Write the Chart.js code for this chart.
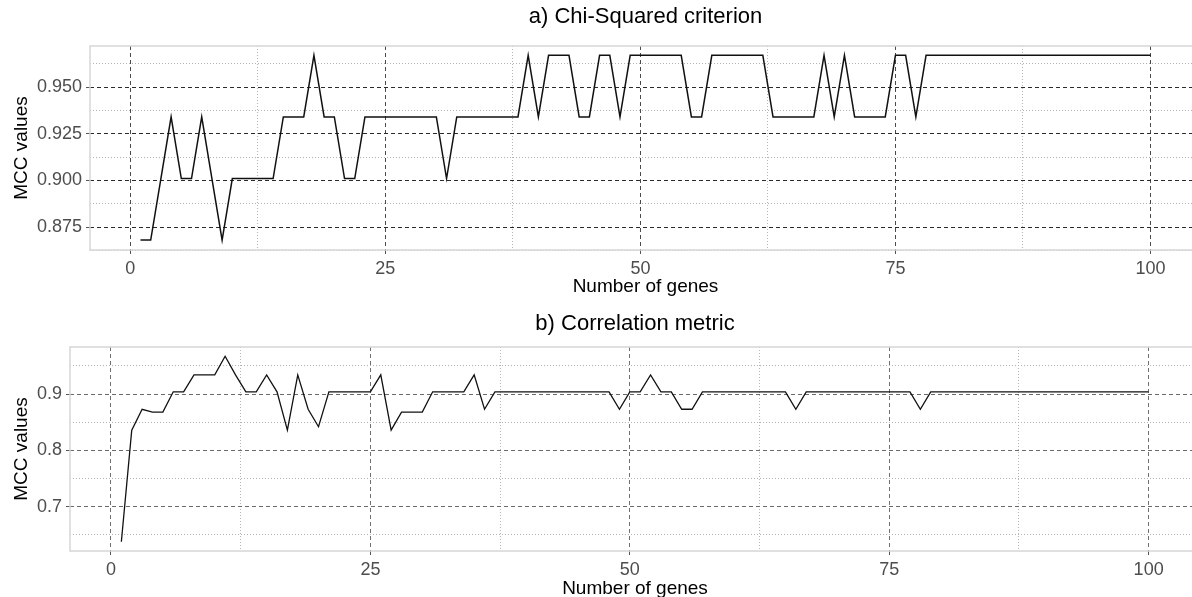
<!DOCTYPE html>
<html>
<head>
<meta charset="utf-8">
<script src="https://cdn.jsdelivr.net/npm/chart.js@4.4.1/dist/chart.umd.min.js"></script>
<style>
  html, body { margin: 0; padding: 0; background: #fff; overflow: hidden; }
  .panel { position: absolute; left: 0; }
  #panelA { top: 0; }
  #panelB { top: 298px; }
</style>
</head>
<body>
<canvas id="panelA" class="panel" width="1201" height="300"></canvas>
<canvas id="panelB" class="panel" width="1200" height="305"></canvas>
<script>
// =======================
// Data
// =======================
const genes = [
  1, 2, 3, 4, 5, 6, 7, 8, 9, 10,
  11, 12, 13, 14, 15, 16, 17, 18, 19, 20,
  21, 22, 23, 24, 25, 26, 27, 28, 29, 30,
  31, 32, 33, 34, 35, 36, 37, 38, 39, 40,
  41, 42, 43, 44, 45, 46, 47, 48, 49, 50,
  51, 52, 53, 54, 55, 56, 57, 58, 59, 60,
  61, 62, 63, 64, 65, 66, 67, 68, 69, 70,
  71, 72, 73, 74, 75, 76, 77, 78, 79, 80,
  81, 82, 83, 84, 85, 86, 87, 88, 89, 90,
  91, 92, 93, 94, 95, 96, 97, 98, 99, 100
];

// a) Chi-Squared criterion
const mccChiSquared = [
  0.868, 0.868, 0.901, 0.934, 0.901, 0.901, 0.934, 0.901, 0.868, 0.901,
  0.901, 0.901, 0.901, 0.901, 0.934, 0.934, 0.934, 0.967, 0.934, 0.934,
  0.901, 0.901, 0.934, 0.934, 0.934, 0.934, 0.934, 0.934, 0.934, 0.934,
  0.901, 0.934, 0.934, 0.934, 0.934, 0.934, 0.934, 0.934, 0.967, 0.934,
  0.967, 0.967, 0.967, 0.934, 0.934, 0.967, 0.967, 0.934, 0.967, 0.967,
  0.967, 0.967, 0.967, 0.967, 0.934, 0.934, 0.967, 0.967, 0.967, 0.967,
  0.967, 0.967, 0.934, 0.934, 0.934, 0.934, 0.934, 0.967, 0.934, 0.967,
  0.934, 0.934, 0.934, 0.934, 0.967, 0.967, 0.934, 0.967, 0.967, 0.967,
  0.967, 0.967, 0.967, 0.967, 0.967, 0.967, 0.967, 0.967, 0.967, 0.967,
  0.967, 0.967, 0.967, 0.967, 0.967, 0.967, 0.967, 0.967, 0.967, 0.967
];

// b) Correlation metric
const mccCorrelation = [
  0.638, 0.836, 0.873, 0.868, 0.868, 0.904, 0.904, 0.934, 0.934, 0.934,
  0.967, 0.934, 0.904, 0.904, 0.934, 0.904, 0.836, 0.934, 0.873, 0.842,
  0.904, 0.904, 0.904, 0.904, 0.904, 0.934, 0.836, 0.868, 0.868, 0.868,
  0.904, 0.904, 0.904, 0.904, 0.934, 0.873, 0.904, 0.904, 0.904, 0.904,
  0.904, 0.904, 0.904, 0.904, 0.904, 0.904, 0.904, 0.904, 0.873, 0.904,
  0.904, 0.934, 0.904, 0.904, 0.873, 0.873, 0.904, 0.904, 0.904, 0.904,
  0.904, 0.904, 0.904, 0.904, 0.904, 0.873, 0.904, 0.904, 0.904, 0.904,
  0.904, 0.904, 0.904, 0.904, 0.904, 0.904, 0.904, 0.873, 0.904, 0.904,
  0.904, 0.904, 0.904, 0.904, 0.904, 0.904, 0.904, 0.904, 0.904, 0.904,
  0.904, 0.904, 0.904, 0.904, 0.904, 0.904, 0.904, 0.904, 0.904, 0.904
];

// tick labels (major) and minor grid positions
const xMajor = [0, 25, 50, 75, 100];
const xMinor = [12.5, 37.5, 62.5, 87.5];
const yMajorA = [0.875, 0.900, 0.925, 0.950];
const yMinorA = [0.8625, 0.8875, 0.9125, 0.9375, 0.9625];
const yMajorB = [0.7, 0.8, 0.9];
const yMinorB = [0.65, 0.75, 0.85, 0.95];

// =======================
// Helpers
// =======================
const FONT = "'Liberation Sans', Arial, sans-serif";
const isIn = (arr, v) => arr.some(m => Math.abs(m - v) < 1e-9);

// grey box round the plotting panel
const panelBorder = {
  id: 'panelBorder',
  beforeDatasetsDraw(chart) {
    const { ctx, chartArea: a } = chart;
    ctx.save();
    ctx.strokeStyle = '#d6d6d6';
    ctx.lineWidth = 1.5;
    ctx.strokeRect(a.left, a.top, a.right - a.left, a.bottom - a.top);
    ctx.restore();
  }
};

function axis(major, minor, min, max, fmt, majorColor, extra) {
  return Object.assign({
    type: 'linear',
    min, max,
    bounds: 'data',
    afterBuildTicks: s => { s.ticks = major.concat(minor).sort((a, b) => a - b).map(v => ({ value: v })); },
    ticks: {
      autoSkip: false,
      maxRotation: 0,
      padding: 4,
      color: '#4d4d4d',
      font: { family: FONT, size: 18 },
      callback: v => isIn(major, v) ? fmt(v) : ''
    },
    grid: {
      color: c => c.tick && isIn(major, c.tick.value) ? majorColor : '#b4b4b4',
      lineWidth: 1,
      tickLength: 4,
      tickWidth: 1,
      tickBorderDash: [],
      tickColor: c => c.tick && isIn(major, c.tick.value) ? '#555' : 'rgba(0,0,0,0)'
    },
    border: {
      display: false,
      dash: c => c.tick ? (isIn(major, c.tick.value) ? [4, 3] : [1, 2]) : []
    }
  }, extra);
}

function makePanel(id, title, values, o) {
  return new Chart(document.getElementById(id), {
    type: 'line',
    data: {
      datasets: [{
        data: genes.map((g, i) => ({ x: g, y: values[i] })),
        borderColor: '#111',
        borderWidth: o.lineWidth,
        pointRadius: 0,
        tension: 0,
        fill: false
      }]
    },
    options: {
      responsive: false,
      animation: false,
      devicePixelRatio: 1,
      layout: { padding: 0 },
      plugins: {
        legend: { display: false },
        tooltip: { enabled: false },
        title: {
          display: true,
          text: title,
          fullSize: false,
          color: '#000',
          font: { family: FONT, size: 22, weight: 'normal' },
          padding: o.titlePad
        }
      },
      scales: {
        x: axis(xMajor, xMinor, -3.95, 104.95, v => String(v), o.xMajorColor, {
          position: 'bottom',
          afterFit: s => { s.height = o.xHeight; },
          title: {
            display: true, text: 'Number of genes', color: '#000',
            font: { family: FONT, size: 19 }, padding: { top: 0, bottom: o.xTitlePad }
          }
        }),
        y: axis(o.yMajor, o.yMinor, o.yMin, o.yMax, o.yFmt, o.yMajorColor, {
          position: 'left',
          afterFit: s => { s.width = o.yWidth; },
          title: {
            display: true, text: 'MCC values', color: '#000',
            font: { family: FONT, size: 19 }, padding: { top: 10, bottom: 0 }
          }
        })
      }
    },
    plugins: [panelBorder]
  });
}

// =======================
// Panels
// =======================
makePanel('panelA', 'a) Chi-Squared criterion', mccChiSquared, {
  lineWidth: 1.5,
  titlePad: { top: 4, bottom: 15.6 },
  xHeight: 50, xTitlePad: 1.6,
  yWidth: 90,
  yMajor: yMajorA, yMinor: yMinorA, yMin: 0.8627, yMax: 0.9720,
  yFmt: v => v.toFixed(3),
  xMajorColor: '#4a4a4a', yMajorColor: '#2b2b2b'
});

makePanel('panelB', 'b) Correlation metric', mccCorrelation, {
  lineWidth: 1.3,
  titlePad: { top: 12.8, bottom: 9.8 },
  xHeight: 52, xTitlePad: 2.6,
  yWidth: 70,
  yMajor: yMajorB, yMinor: yMinorB, yMin: 0.6215, yMax: 0.9835,
  yFmt: v => v.toFixed(1),
  xMajorColor: '#707070', yMajorColor: '#6a6a6a'
});
</script>
</body>
</html>
